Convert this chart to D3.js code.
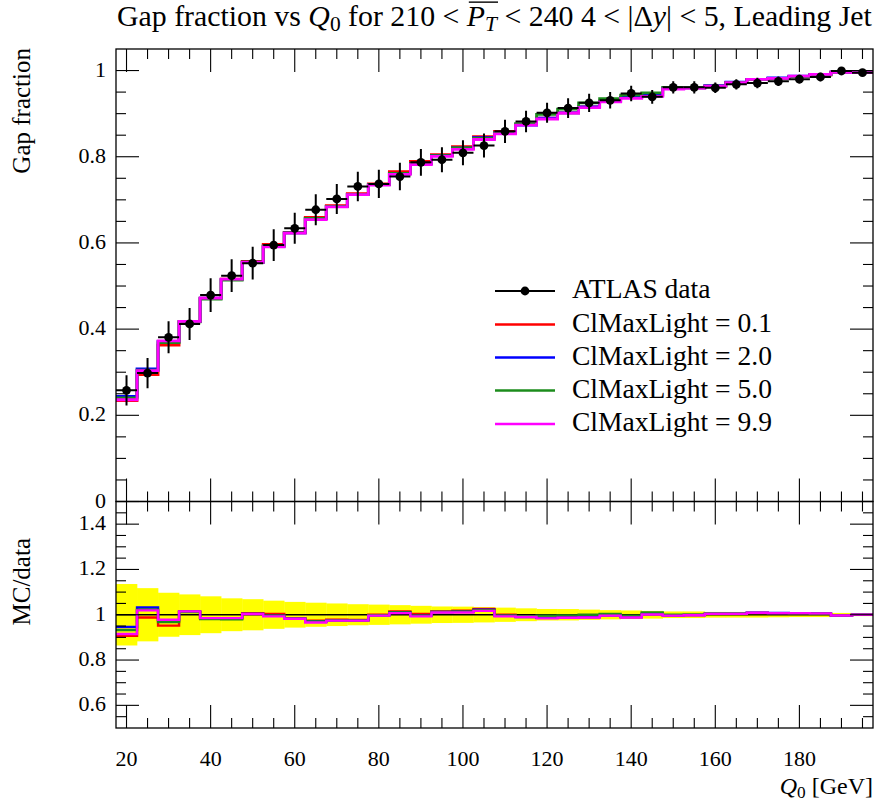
<!DOCTYPE html>
<html>
<head>
<meta charset="utf-8">
<script src="https://cdn.jsdelivr.net/npm/d3@7"></script>
<style>
  html, body { margin: 0; padding: 0; background: #fff; }
  svg { display: block; }
  text { font-family: "Liberation Serif", "DejaVu Serif", serif; fill: #000; }
</style>
</head>
<body>
<svg id="chart" width="881" height="801"></svg>
<script>
// ---------------- data ----------------
const binCenters = [20,25,30,35,40,45,50,55,60,65,70,75,80,85,90,95,100,105,110,115,120,125,130,135,140,145,150,155,160,165,170,175,180,185,190,195];
const binWidth = 5;

const dataValues = [0.258,0.298,0.381,0.412,0.479,0.524,0.553,0.595,0.634,0.677,0.702,0.731,0.737,0.754,0.787,0.793,0.809,0.826,0.859,0.882,0.902,0.913,0.925,0.931,0.947,0.939,0.961,0.961,0.960,0.968,0.971,0.975,0.980,0.985,0.999,0.995];
const dataErrors = [0.035,0.035,0.037,0.037,0.039,0.038,0.038,0.037,0.036,0.036,0.035,0.034,0.033,0.032,0.031,0.029,0.029,0.028,0.027,0.025,0.023,0.023,0.021,0.019,0.018,0.016,0.014,0.014,0.012,0.012,0.012,0.011,0.010,0.010,0.008,0.006];

const mcRed = [0.2340,0.2944,0.3627,0.4174,0.4718,0.5161,0.5569,0.5968,0.6245,0.6594,0.6866,0.7142,0.7370,0.7653,0.7894,0.8049,0.8236,0.8467,0.8590,0.8749,0.8894,0.9020,0.9158,0.9291,0.9375,0.9428,0.9591,0.9600,0.9638,0.9719,0.9788,0.9818,0.9859,0.9899,0.9960,0.9950];
const mcBlue = [0.2441,0.3075,0.3715,0.4174,0.4718,0.5156,0.5552,0.5926,0.6232,0.6567,0.6845,0.7127,0.7355,0.7615,0.7839,0.8025,0.8203,0.8442,0.8556,0.8732,0.8894,0.9020,0.9158,0.9291,0.9375,0.9428,0.9591,0.9600,0.9648,0.9728,0.9797,0.9828,0.9869,0.9909,0.9960,0.9950];
const mcGreen = [0.2405,0.3046,0.3688,0.4169,0.4699,0.5135,0.5552,0.5926,0.6232,0.6567,0.6845,0.7127,0.7355,0.7615,0.7839,0.8025,0.8203,0.8425,0.8556,0.8767,0.8984,0.9103,0.9250,0.9347,0.9432,0.9484,0.9610,0.9610,0.9638,0.9719,0.9788,0.9818,0.9859,0.9899,0.9960,0.9950];
const mcMagenta = [0.2361,0.3037,0.3726,0.4182,0.4718,0.5161,0.5547,0.5908,0.6226,0.6540,0.6837,0.7120,0.7341,0.7593,0.7815,0.8009,0.8171,0.8400,0.8530,0.8732,0.8876,0.9011,0.9139,0.9273,0.9356,0.9399,0.9572,0.9591,0.9638,0.9719,0.9797,0.9818,0.9869,0.9909,0.9960,0.9950];

const seriesNames = ["ClMaxLight = 0.1","ClMaxLight = 2.0","ClMaxLight = 5.0","ClMaxLight = 9.9"];
const seriesColors = ["#ff0000","#0000ff","#1c8c1c","#ff00ff"];
const seriesValues = [mcRed, mcBlue, mcGreen, mcMagenta];

const xTickValues = [20,40,60,80,100,120,140,160,180];
const mainYTicks = [0,0.2,0.4,0.6,0.8,1];
const mainYTickLabels = ["0","0.2","0.4","0.6","0.8","1"];
const ratioYTicks = [0.6,0.8,1,1.2,1.4];
const ratioYTickLabels = ["0.6","0.8","1","1.2","1.4"];

// ---------------- layout ----------------
const L = 116, R = 873, T = 49, M = 501.5, B = 728;
const svg = d3.select("#chart");

const x = d3.scaleLinear().domain([17.5, 197.5]).range([L, R]);
const yMain = d3.scaleLinear().domain([0, 1.05]).range([M, T]);
const yRatio = d3.scaleLinear().domain([0.5, 1.5]).range([B, M]);

function fitWidth(sel, target) {
  const fsz = parseFloat(sel.attr("font-size"));
  const w = sel.node().getComputedTextLength();
  sel.attr("font-size", fsz * target / w);
}

const defs = svg.append("defs");
defs.append("clipPath").attr("id","clipMain").append("rect").attr("x",L).attr("y",T).attr("width",R-L).attr("height",M-T);
defs.append("clipPath").attr("id","clipRatio").append("rect").attr("x",L).attr("y",M).attr("width",R-L).attr("height",B-M);

function stepPoints(vals) {
  const pts = [];
  binCenters.forEach((c, i) => {
    pts.push([c - binWidth/2, vals[i]]);
    pts.push([c + binWidth/2, vals[i]]);
  });
  return pts;
}

// ---------------- ratio panel ----------------
const gR = svg.append("g").attr("clip-path","url(#clipRatio)");
const relErr = dataValues.map((v,i) => dataErrors[i]/v);
gR.selectAll("rect.band").data(binCenters).join("rect")
  .attr("x", c => x(c - binWidth/2))
  .attr("width", c => x(c + binWidth/2) - x(c - binWidth/2) + 0.3)
  .attr("y", (c,i) => yRatio(1 + relErr[i]))
  .attr("height", (c,i) => yRatio(1 - relErr[i]) - yRatio(1 + relErr[i]))
  .attr("fill", "#ffff00");

const lineR = d3.line().x(d => x(d[0])).y(d => yRatio(d[1]));
gR.append("path").attr("d", lineR(stepPoints(dataValues.map(() => 1))))
  .attr("fill","none").attr("stroke","#000").attr("stroke-width",1.3);
seriesValues.forEach((vals, k) => {
  const ratio = vals.map((v,i) => v / dataValues[i]);
  gR.append("path").attr("d", lineR(stepPoints(ratio)))
    .attr("fill","none").attr("stroke",seriesColors[k]).attr("stroke-width",2.4);
});

// ---------------- main panel ----------------
const gM = svg.append("g").attr("clip-path","url(#clipMain)");
const lineM = d3.line().x(d => x(d[0])).y(d => yMain(d[1]));
seriesValues.forEach((vals, k) => {
  gM.append("path").attr("d", lineM(stepPoints(vals)))
    .attr("fill","none").attr("stroke",seriesColors[k]).attr("stroke-width",2.8);
});
const gD = gM.append("g");
binCenters.forEach((c,i) => {
  gD.append("line").attr("x1",x(c-binWidth/2)).attr("x2",x(c+binWidth/2))
    .attr("y1",yMain(dataValues[i])).attr("y2",yMain(dataValues[i]))
    .attr("stroke","#000").attr("stroke-width",2);
  gD.append("line").attr("x1",x(c)).attr("x2",x(c))
    .attr("y1",yMain(dataValues[i]-dataErrors[i])).attr("y2",yMain(dataValues[i]+dataErrors[i]))
    .attr("stroke","#000").attr("stroke-width",2);
  gD.append("circle").attr("cx",x(c)).attr("cy",yMain(dataValues[i])).attr("r",4.4).attr("fill","#000");
});

// ---------------- frames & ticks ----------------
function frame(top, bottom) {
  svg.append("rect").attr("x",L).attr("y",top).attr("width",R-L).attr("height",bottom-top)
    .attr("fill","none").attr("stroke","#000").attr("stroke-width",1.3);
}
frame(T, M); frame(M, B);

const tickG = svg.append("g").attr("stroke","#000").attr("stroke-width",1.1);
const majLen = 23, minLen = 10;
const xMinor = d3.range(20, 197, 5);
[[T, 1],[M, -1],[M, 1],[B, -1]].forEach(([yy, dir]) => {
  xMinor.forEach(v => {
    const len = xTickValues.includes(v) ? majLen : minLen;
    tickG.append("line").attr("x1",x(v)).attr("x2",x(v)).attr("y1",yy).attr("y2",yy + dir*len);
  });
});
d3.range(0, 21).map(i => i*0.05).forEach(v => {
  const major = Math.abs(v*5 - Math.round(v*5)) < 1e-6;
  const len = major ? majLen : minLen;
  const yy = yMain(v);
  tickG.append("line").attr("x1",L).attr("x2",L+len).attr("y1",yy).attr("y2",yy);
  tickG.append("line").attr("x1",R).attr("x2",R-len).attr("y1",yy).attr("y2",yy);
});
d3.range(11, 30).map(i => i*0.05).forEach(v => {
  const major = Math.abs(v*5 - Math.round(v*5)) < 1e-6;
  const len = major ? majLen : minLen;
  const yy = yRatio(v);
  tickG.append("line").attr("x1",L).attr("x2",L+len).attr("y1",yy).attr("y2",yy);
  tickG.append("line").attr("x1",R).attr("x2",R-len).attr("y1",yy).attr("y2",yy);
});

// tick labels
const fs = 22;
mainYTicks.forEach((v,i) => {
  svg.append("text").attr("x",106).attr("y",yMain(v)+6).attr("text-anchor","end")
    .attr("font-size",fs).text(mainYTickLabels[i]);
});
ratioYTicks.forEach((v,i) => {
  svg.append("text").attr("x",106).attr("y",yRatio(v)+6).attr("text-anchor","end")
    .attr("font-size",fs).text(ratioYTickLabels[i]);
});
xTickValues.forEach(v => {
  svg.append("text").attr("x",x(v)).attr("y",766).attr("text-anchor","middle")
    .attr("font-size",fs).text(String(v));
});

// axis labels
svg.append("text").attr("transform","translate(30,48) rotate(-90)")
  .attr("text-anchor","end").attr("font-size",25).text("Gap fraction");
svg.append("text").attr("transform","translate(30,538) rotate(-90)")
  .attr("text-anchor","end").attr("font-size",25).text("MC/data");
const xl = svg.append("text").attr("x",R).attr("y",794).attr("text-anchor","end").attr("font-size",24);
xl.append("tspan").attr("font-style","italic").text("Q");
xl.append("tspan").attr("dy",4).attr("font-size","0.72em").text("0");
xl.append("tspan").attr("dy",-4).text(" [GeV]");

// title
const titlePieces = [
  {t:"Gap fraction vs "},
  {t:"Q", it:true},
  {t:"0", sub:true},
  {t:" for 210 < "},
  {t:"P", it:true, ov:true},
  {t:"T", it:true, sub:true, ov:true},
  {t:" < 240 4 < |Δ"},
  {t:"y", it:true},
  {t:"| < 5, Leading Jet"}
];
const titleY = 26;
const title = svg.append("text").attr("x",117).attr("y",titleY).attr("font-size",22);
let prevSub = false;
titlePieces.forEach(p => {
  const ts = title.append("tspan").text(p.t);
  if (p.it) ts.attr("font-style","italic");
  if (p.sub) ts.attr("font-size","0.72em");
  let dy = 0;
  if (p.sub && !prevSub) dy = 5;
  if (!p.sub && prevSub) dy = -5;
  if (dy) ts.attr("dy", dy);
  prevSub = !!p.sub;
});
fitWidth(title, 755);
{
  const tfs = parseFloat(title.attr("font-size"));
  let idx = 0, start = -1, end = -1;
  titlePieces.forEach(p => {
    if (p.ov) { if (start < 0) start = idx; end = idx + p.t.length - 1; }
    idx += p.t.length;
  });
  const n = title.node();
  const s = n.getStartPositionOfChar(start);
  const e = n.getEndPositionOfChar(end);
  const oy = titleY - 0.8 * tfs;
  svg.append("line").attr("x1",s.x+2).attr("x2",e.x+1).attr("y1",oy).attr("y2",oy)
    .attr("stroke","#000").attr("stroke-width",1.4);
}

// ---------------- legend ----------------
const legX1 = 495, legX2 = 555, legText = 572;
const legY = [291, 324.5, 357.5, 390.5, 424];
const lg = svg.append("g");
lg.append("line").attr("x1",legX1).attr("x2",legX2).attr("y1",legY[0]).attr("y2",legY[0])
  .attr("stroke","#000").attr("stroke-width",2);
lg.append("circle").attr("cx",(legX1+legX2)/2).attr("cy",legY[0]).attr("r",4.4).attr("fill","#000");
const legTexts = [];
legTexts.push(lg.append("text").attr("x",legText).attr("y",legY[0]+7).attr("font-size",24).text("ATLAS data"));
seriesNames.forEach((name,k) => {
  const yy = legY[k+1];
  lg.append("line").attr("x1",legX1).attr("x2",legX2).attr("y1",yy).attr("y2",yy)
    .attr("stroke",seriesColors[k]).attr("stroke-width",2.4);
  legTexts.push(lg.append("text").attr("x",legText).attr("y",yy+7).attr("font-size",24).text(name));
});
{
  const w = legTexts[1].node().getComputedTextLength();
  const nf = 24 * 200 / w;
  legTexts.forEach(t => t.attr("font-size", nf));
}
</script>
</body>
</html>
